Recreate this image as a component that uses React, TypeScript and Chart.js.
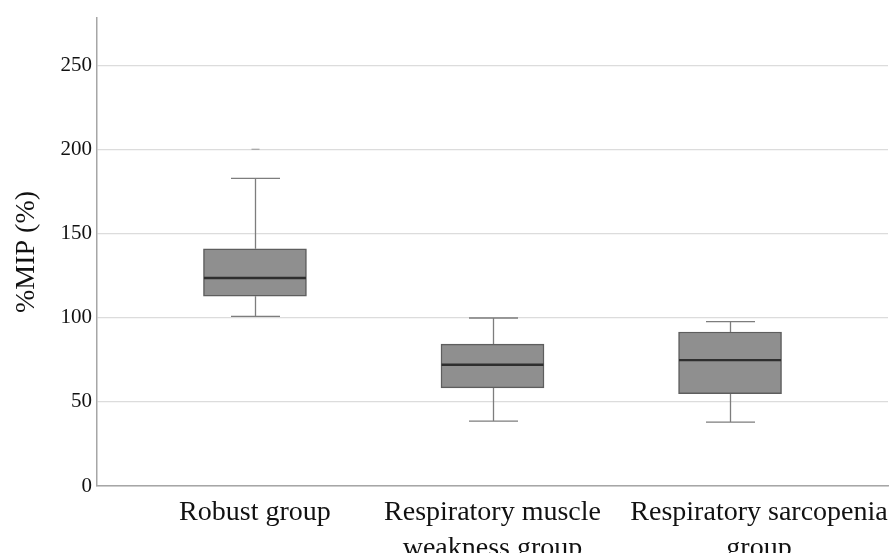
import React, { useEffect, useRef } from "react";
import { Chart, registerables } from "chart.js";

Chart.register(...registerables);

const categories: string[][] = [
  ["Robust group"],
  ["Respiratory muscle", "weakness group"],
  ["Respiratory sarcopenia", "group"],
];
const positions = [1, 2, 3];
const labelPositions = [1, 2, 3.122];
const whiskerLow = [100.8, 38.5, 37.9];
const q1 = [112.7, 58.3, 54.8];
const median = [123.6, 72.0, 74.8];
const q3 = [140.9, 84.3, 91.5];
const whiskerHigh = [182.7, 99.8, 97.6];
const outliers: number[][] = [[200], [], []];
const yTicks = [0, 50, 100, 150, 200, 250];
const yTitle = "%MIP (%)";

const SERIF = "'Liberation Serif', 'Times New Roman', serif";

const boxPlugin = {
  id: "boxParts",
  beforeDatasetsDraw(chart: any) {
    const { ctx } = chart;
    const ys = chart.scales.y;
    const bars = chart.getDatasetMeta(0).data;
    ctx.save();
    ctx.lineWidth = 1.3;
    positions.forEach((p, i) => {
      const bar = bars[i];
      const cx = Math.round(bar.x) + 0.5;
      const capHalf = bar.width * 0.238;
      const yl = ys.getPixelForValue(whiskerLow[i]);
      const yh = ys.getPixelForValue(whiskerHigh[i]);
      const y1 = ys.getPixelForValue(q1[i]);
      const y3 = ys.getPixelForValue(q3[i]);
      ctx.strokeStyle = "#7d7d7d";
      ctx.beginPath();
      ctx.moveTo(cx, yl);
      ctx.lineTo(cx, y1);
      ctx.moveTo(cx, y3);
      ctx.lineTo(cx, yh);
      ctx.moveTo(cx - capHalf, yl);
      ctx.lineTo(cx + capHalf, yl);
      ctx.moveTo(cx - capHalf, yh);
      ctx.lineTo(cx + capHalf, yh);
      ctx.stroke();
      ctx.strokeStyle = "#a8a8a8";
      outliers[i].forEach((o) => {
        const yo = ys.getPixelForValue(o);
        ctx.beginPath();
        ctx.moveTo(cx - 4, yo);
        ctx.lineTo(cx + 4, yo);
        ctx.stroke();
      });
    });
    ctx.restore();
  },
  afterDatasetsDraw(chart: any) {
    const { ctx } = chart;
    const ys = chart.scales.y;
    const bars = chart.getDatasetMeta(0).data;
    ctx.save();
    ctx.strokeStyle = "#2e2e2e";
    ctx.lineWidth = 2.4;
    positions.forEach((p, i) => {
      const bar = bars[i];
      const half = bar.width / 2 - 0.5;
      const ym = ys.getPixelForValue(median[i]);
      ctx.beginPath();
      ctx.moveTo(bar.x - half, ym);
      ctx.lineTo(bar.x + half, ym);
      ctx.stroke();
    });
    ctx.restore();
  },
};

export default function App() {
  const ref = useRef<HTMLCanvasElement | null>(null);
  useEffect(() => {
    document.body.style.margin = "0";
    const canvas = ref.current!;
    const chart = new Chart(canvas, {
      type: "bar",
      data: {
        datasets: [
          {
            data: positions.map((p, i) => ({ x: p, y: [q1[i], q3[i]] })) as any,
            backgroundColor: "#8f8f8f",
            borderColor: "#5e5e5e",
            borderWidth: 1.5,
            borderSkipped: false,
            barThickness: 103,
          },
        ],
      },
      options: {
        animation: false,
        responsive: false,
        events: [],
        layout: { padding: { top: 18, right: 3, left: 0, bottom: 0 } },
        plugins: {
          legend: { display: false },
          tooltip: { enabled: false },
        },
        scales: {
          x: {
            type: "linear",
            offset: false,
            min: 0.335,
            max: 3.665,
            afterBuildTicks: (scale: any) => {
              scale.ticks = labelPositions.map((v) => ({ value: v }));
            },
            afterFit: (scale: any) => {
              scale.height = 67;
              scale.paddingLeft = 0;
              scale.paddingRight = 0;
            },
            grid: { display: false, drawTicks: false, offset: false },
            border: { display: true, color: "#a6a6a6", width: 1.5 },
            ticks: {
              autoSkip: false,
              maxRotation: 0,
              minRotation: 0,
              padding: 9,
              color: "#111",
              font: { family: SERIF, size: 28, lineHeight: 1.28 },
              callback: (v: any) => {
                const i = labelPositions.indexOf(Number(v));
                return i >= 0 ? categories[i] : "";
              },
            },
          },
          y: {
            type: "linear",
            min: 0,
            max: 278,
            afterBuildTicks: (scale: any) => {
              scale.ticks = yTicks.map((v) => ({ value: v }));
            },
            afterFit: (scale: any) => {
              scale.width = 97;
            },
            grid: { color: "#dcdcdc", lineWidth: 1.2, drawTicks: false },
            border: { display: true, color: "#a6a6a6", width: 1.5 },
            ticks: {
              padding: 5,
              color: "#111",
              font: { family: SERIF, size: 21 },
            },
            title: {
              display: true,
              text: yTitle,
              color: "#111",
              font: { family: SERIF, size: 28 },
              padding: { top: 10, bottom: 0 },
            },
          },
        },
      },
      plugins: [boxPlugin],
    });
    return () => chart.destroy();
  }, []);
  return (
    <div style={{ width: 891, height: 553, background: "#fff" }}>
      <canvas ref={ref} width={891} height={553} />
    </div>
  );
}
